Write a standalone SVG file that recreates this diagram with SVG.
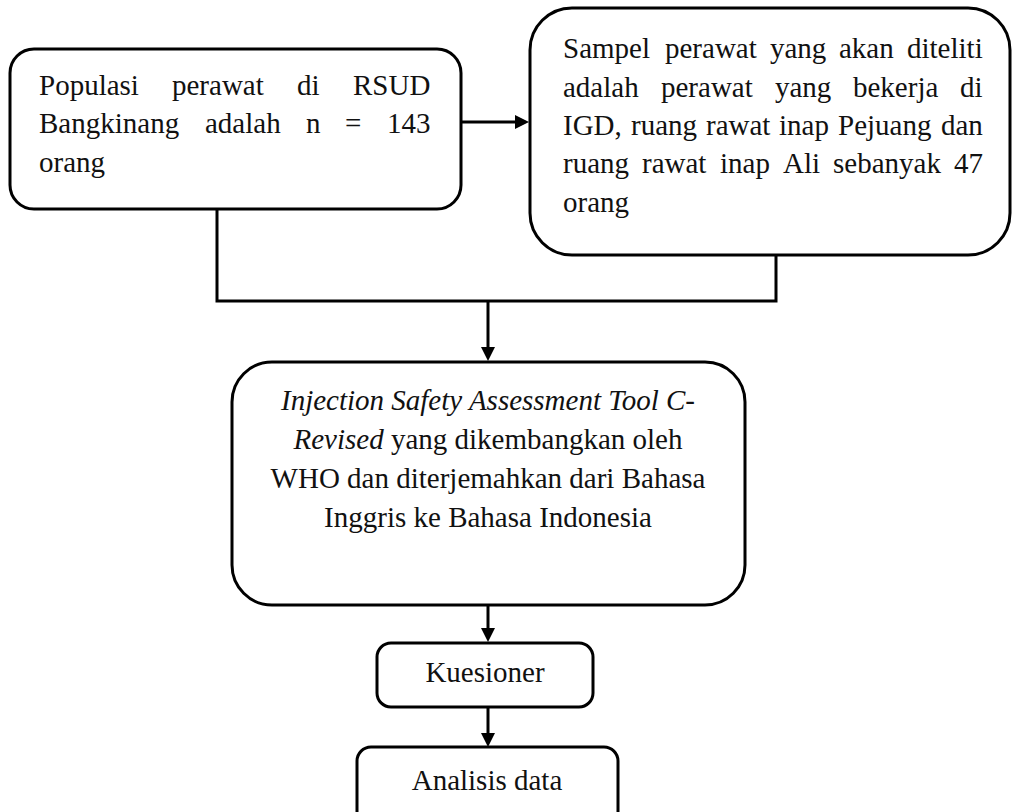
<svg xmlns="http://www.w3.org/2000/svg" width="1012" height="812" viewBox="0 0 1012 812">
<defs>
<style>
.box{fill:#fff;stroke:#000;stroke-width:3}
.wire{fill:none;stroke:#000;stroke-width:3}
.t{font-family:"Liberation Serif","Times New Roman",serif;font-size:29px;fill:#111}
.c{text-anchor:middle}
.i{font-style:italic}
</style>
<marker id="arr" markerUnits="userSpaceOnUse" markerWidth="16" markerHeight="16" refX="1" refY="7" orient="auto" viewBox="0 0 16 14">
<path d="M0,0 L14,7 L0,14 z" fill="#000"/>
</marker>
</defs>
<rect width="1012" height="812" fill="#fff"/>
<g id="connectors">
<line class="wire" x1="461" y1="122" x2="516" y2="122" marker-end="url(#arr)"/>
<polyline class="wire" points="217,209 217,301 776,301 776,255"/>
<line class="wire" x1="488" y1="301" x2="488" y2="348" marker-end="url(#arr)"/>
<line class="wire" x1="488" y1="606" x2="488" y2="629" marker-end="url(#arr)"/>
<line class="wire" x1="488" y1="708" x2="488" y2="734" marker-end="url(#arr)"/>
</g>
<g id="node-populasi">
<rect class="box" x="10" y="49" width="451" height="160" rx="24"/>
<text class="t" y="95"><tspan x="39">Populasi</tspan><tspan x="172">perawat</tspan><tspan x="297">di</tspan><tspan x="353">RSUD</tspan></text>
<text class="t" y="133"><tspan x="39">Bangkinang</tspan><tspan x="205">adalah</tspan><tspan x="306">n</tspan><tspan x="345">=</tspan><tspan x="387">143</tspan></text>
<text class="t" x="39" y="172">orang</text>
</g>
<g id="node-sampel">
<rect class="box" x="530" y="8" width="480" height="247" rx="42"/>
<text class="t" y="58"><tspan x="563">Sampel</tspan><tspan x="665">perawat</tspan><tspan x="770">yang</tspan><tspan x="839">akan</tspan><tspan x="907">diteliti</tspan></text>
<text class="t" y="97"><tspan x="563">adalah</tspan><tspan x="661">perawat</tspan><tspan x="775">yang</tspan><tspan x="853">bekerja</tspan><tspan x="960">di</tspan></text>
<text class="t" y="135"><tspan x="563">IGD,</tspan><tspan x="631">ruang</tspan><tspan x="706">rawat</tspan><tspan x="779">inap</tspan><tspan x="838">Pejuang</tspan><tspan x="941">dan</tspan></text>
<text class="t" y="173"><tspan x="563">ruang</tspan><tspan x="642">rawat</tspan><tspan x="720">inap</tspan><tspan x="783">Ali</tspan><tspan x="833">sebanyak</tspan><tspan x="954">47</tspan></text>
<text class="t" x="563" y="212">orang</text>
</g>
<g id="node-tool">
<rect class="box" x="232" y="362" width="513" height="243" rx="40"/>
<text class="t c i" x="488" y="410">Injection Safety Assessment Tool C-</text>
<text class="t c" x="488" y="449"><tspan class="i">Revised</tspan> yang dikembangkan oleh</text>
<text class="t c" x="488" y="488">WHO dan diterjemahkan dari Bahasa</text>
<text class="t c" x="488" y="527">Inggris ke Bahasa Indonesia</text>
</g>
<g id="node-kuesioner">
<rect class="box" x="377" y="643" width="216" height="64" rx="14"/>
<text class="t c" x="485" y="682">Kuesioner</text>
</g>
<g id="node-analisis">
<rect class="box" x="357" y="747" width="261" height="80" rx="14"/>
<text class="t c" x="487" y="790">Analisis data</text>
</g>
</svg>
